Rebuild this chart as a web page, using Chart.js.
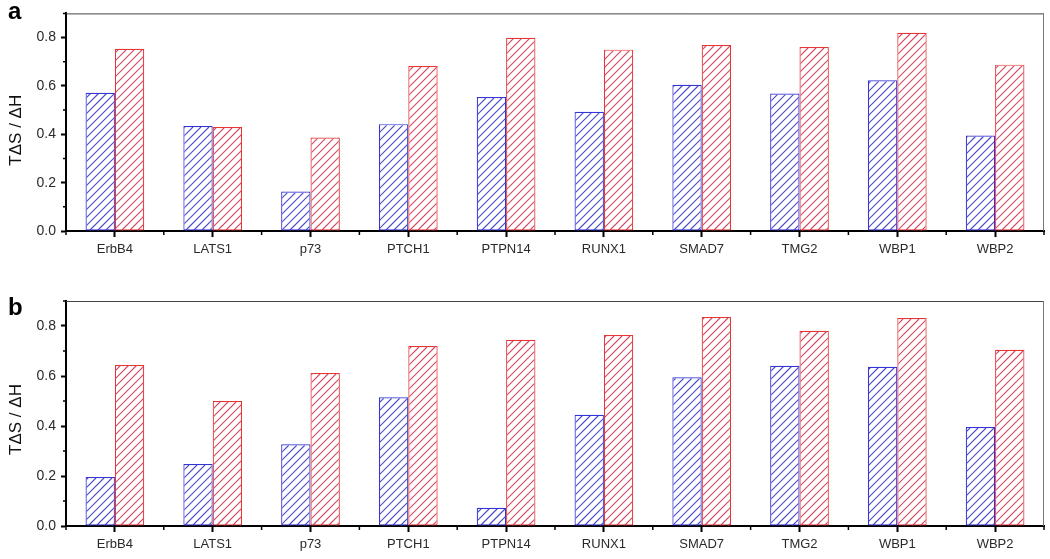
<!DOCTYPE html>
<html>
<head>
<meta charset="utf-8">
<script src="https://cdn.jsdelivr.net/npm/chart.js@4.4.1/dist/chart.umd.min.js"></script>
<style>
  html, body { margin: 0; padding: 0; background: #fff; }
  #wrap { position: relative; width: 1050px; height: 559px; background: #fff; overflow: hidden; }
  canvas { position: absolute; left: 0; }
  .panel { position: absolute; font-family: "Liberation Sans", Arial, sans-serif; font-weight: bold; font-size: 24px; color: #000; line-height: 1; }
</style>
</head>
<body>
<div id="wrap">
  <canvas id="ca" width="1050" height="270" style="top:0px"></canvas>
  <canvas id="cb" width="1050" height="289" style="top:270px"></canvas>
  <div class="panel" style="left:8px; top:-1px;">a</div>
  <div class="panel" style="left:8px; top:295px;">b</div>
</div>
<script>
// ---- data ----
const categories = ['ErbB4', 'LATS1', 'p73', 'PTCH1', 'PTPN14', 'RUNX1', 'SMAD7', 'TMG2', 'WBP1', 'WBP2'];
const panelA_blue = [0.572, 0.434, 0.163, 0.442, 0.554, 0.493, 0.605, 0.569, 0.623, 0.395];
const panelA_red  = [0.754, 0.430, 0.387, 0.682, 0.799, 0.750, 0.769, 0.761, 0.820, 0.688];
const panelB_blue = [0.196, 0.248, 0.327, 0.515, 0.073, 0.445, 0.595, 0.641, 0.637, 0.396];
const panelB_red  = [0.644, 0.500, 0.612, 0.720, 0.745, 0.764, 0.836, 0.781, 0.832, 0.705];
const yMajorTicks = [0.0, 0.2, 0.4, 0.6, 0.8];
const yMinorTicks = [0.1, 0.3, 0.5, 0.7, 0.9];
const yTitle = 'TΔS / ΔH';

const FONT = '"Liberation Sans", Arial, sans-serif';
const HATCH_COLORS = ['#4c4cc8', '#d44a64'];
const BORDER_COLORS = ['#3333d6', '#e63636'];

// draws hatch lines inside each bar element (positions from Chart.js bar elements)
const hatchPlugin = {
  id: 'hatch',
  afterDatasetsDraw(chart) {
    const ctx = chart.ctx;
    const spacing = 8;
    chart.data.datasets.forEach((ds, di) => {
      const meta = chart.getDatasetMeta(di);
      meta.data.forEach(bar => {
        const p = bar.getProps(['x', 'y', 'base', 'width'], true);
        const l = p.x - p.width / 2 + 1, r = p.x + p.width / 2 - 1;
        const t = Math.min(p.y, p.base) + 1, b = Math.max(p.y, p.base);
        if (b - t <= 0) return;
        ctx.save();
        ctx.beginPath();
        ctx.rect(l, t, r - l, b - t);
        ctx.clip();
        ctx.strokeStyle = HATCH_COLORS[di];
        ctx.lineWidth = 1.2;
        ctx.beginPath();
        const cStart = Math.floor((l + t) / spacing) * spacing;
        for (let c = cStart; c <= r + b + spacing; c += spacing) {
          ctx.moveTo(c - t, t);
          ctx.lineTo(c - b, b);
        }
        ctx.stroke();
        ctx.restore();
      });
    });
  }
};

const extras = {
  id: 'extras',
  afterDraw(chart, args, opts) {
    const ctx = chart.ctx;
    const a = chart.chartArea;
    const xs = chart.scales.x, ys = chart.scales.y;
    ctx.save();
    ctx.lineWidth = 1;
    ctx.strokeStyle = '#444';
    ctx.beginPath();
    ctx.moveTo(a.left, a.top + 0.5); ctx.lineTo(a.right, a.top + 0.5);
    ctx.stroke();
    ctx.strokeStyle = '#777';
    ctx.beginPath();
    ctx.moveTo(a.right - 0.5, a.top); ctx.lineTo(a.right - 0.5, a.bottom);
    ctx.stroke();
    ctx.strokeStyle = '#000';
    ctx.lineWidth = 1.5;
    ctx.beginPath();
    for (let i = 0; i <= categories.length; i++) {
      const x = xs.getPixelForValue(i - 0.5);
      ctx.moveTo(x, a.bottom); ctx.lineTo(x, a.bottom + 4);
    }
    yMinorTicks.forEach(v => {
      const y = ys.getPixelForValue(v);
      ctx.moveTo(a.left, y); ctx.lineTo(a.left - 3, y);
    });
    ctx.stroke();
    ctx.fillStyle = '#111';
    ctx.font = '17px ' + FONT;
    ctx.textAlign = 'center';
    ctx.textBaseline = 'middle';
    ctx.translate(16, (a.top + a.bottom) / 2 + opts.titleShift);
    ctx.rotate(-Math.PI / 2);
    ctx.fillText(yTitle, 0, 0);
    ctx.restore();
  }
};

function makeChart(id, blue, red, padTop, xHeight, titleShift) {
  return new Chart(document.getElementById(id), {
    type: 'bar',
    data: {
      labels: categories,
      datasets: [
        { data: blue, backgroundColor: '#ffffff', borderColor: BORDER_COLORS[0], borderWidth: 1.2, borderSkipped: false,
          categoryPercentage: 0.6, barPercentage: 1.0 },
        { data: red, backgroundColor: '#ffffff', borderColor: BORDER_COLORS[1], borderWidth: 1.2, borderSkipped: false,
          categoryPercentage: 0.6, barPercentage: 1.0 }
      ]
    },
    options: {
      responsive: false,
      animation: false,
      layout: { padding: { top: padTop, right: 6, left: 0, bottom: 0 } },
      plugins: { legend: { display: false }, tooltip: { enabled: false }, extras: { titleShift } },
      scales: {
        x: {
          type: 'category',
          grid: { offset: false, drawOnChartArea: false, drawTicks: true, tickLength: 6, tickColor: '#000', tickWidth: 2 },
          border: { display: true, color: '#000', width: 2 },
          ticks: { color: '#2a2a2a', font: { family: FONT, size: 13 }, padding: 5, maxRotation: 0, autoSkip: false },
          afterFit: s => { s.height = xHeight; }
        },
        y: {
          min: 0, max: 0.9,
          grid: { drawOnChartArea: false, drawTicks: true, tickLength: 5, tickColor: '#000', tickWidth: 2 },
          border: { display: true, color: '#000', width: 2 },
          ticks: { stepSize: 0.2, color: '#2a2a2a', font: { family: FONT, size: 14 }, padding: 5,
                   callback: v => Number(v).toFixed(1) },
          afterBuildTicks: s => { s.ticks = yMajorTicks.map(v => ({ value: v })); },
          afterFit: s => { s.width = 66; }
        }
      }
    },
    plugins: [hatchPlugin, extras]
  });
}

makeChart('ca', panelA_blue, panelA_red, 7, 39, 8);
makeChart('cb', panelB_blue, panelB_red, 31, 33, 6);
</script>
</body>
</html>
